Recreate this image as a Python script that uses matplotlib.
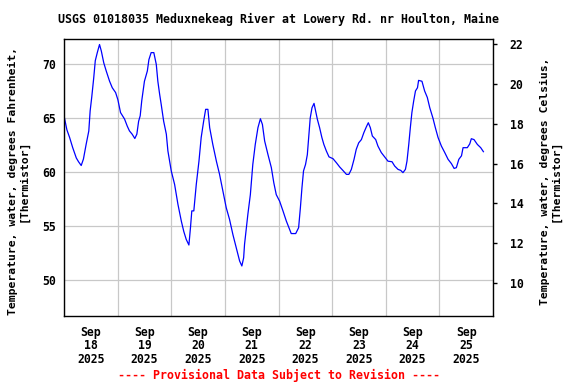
import numpy as np
import pandas as pd
import matplotlib
matplotlib.use("Agg")
import matplotlib.pyplot as plt
import matplotlib.dates as mdates

# hours since 2025-09-18 00:00 and water temperature (deg F)
hours = [0.2, 1.3, 2.5, 3.9, 5.5, 6.5, 7.7, 8.7, 9.9, 11.1, 11.7, 12.4, 13.3, 14.0,
         14.9, 15.9, 16.7, 17.8, 18.9, 20.4, 21.6, 23.1, 24.1, 25.3, 27.1, 28.3,
         29.3, 30.5, 31.7, 32.6, 33.4, 34.1, 34.8, 36.0, 37.3, 38.0, 39.0, 40.2,
         41.3, 42.0, 42.8, 43.5, 44.6, 45.8, 46.5, 48.0, 49.5, 51.0, 52.5, 53.6,
         54.7, 55.9, 56.6, 57.2, 58.1, 59.2, 60.4, 61.4, 62.5, 63.4, 64.4, 65.2,
         66.6, 68.2, 69.6, 71.1, 72.6, 74.1, 75.6, 77.1, 78.6, 79.6, 80.4, 80.8,
         81.6, 82.3, 83.4, 84.5, 85.6, 86.8, 87.9, 88.8, 89.8, 91.3, 92.8, 93.9,
         95.0, 96.5, 98.0, 99.5, 100.7, 101.7, 103.7, 105.0, 105.8, 106.5, 107.2,
         108.1, 108.9, 109.5, 110.2, 111.0, 111.9, 112.6, 113.4, 114.4, 115.4,
         116.3, 117.4, 118.6, 120.4, 121.9, 123.4, 124.8, 126.4, 127.5, 128.6,
         129.8, 130.8, 131.9, 133.1, 134.2, 135.3, 136.2, 137.1, 138.0, 139.5,
         140.5, 142.0, 143.5, 145.0, 146.8, 148.0, 149.5, 150.7, 151.7, 152.8,
         153.5, 154.3, 155.0, 155.7, 156.5, 157.3, 158.2, 158.7, 160.2, 161.4,
         162.6, 163.7, 165.1, 166.2, 167.4, 168.9, 170.4, 171.9, 173.4, 174.6,
         175.6, 176.7, 177.9, 178.6, 180.5, 181.6, 182.3, 183.5, 185.0, 186.5,
         187.7]
temp_f = [65.0, 63.9, 63.2, 62.25, 61.3, 60.95, 60.6, 61.2, 62.55, 63.8, 65.65,
          66.9, 68.7, 70.3, 71.05, 71.8, 71.2, 70.1, 69.35, 68.4, 67.8, 67.35,
          66.7, 65.5, 64.9, 64.25, 63.8, 63.5, 63.1, 63.5, 64.7, 65.2, 66.6, 68.4,
          69.35, 70.4, 71.05, 71.05, 69.96, 68.4, 67.2, 66.26, 64.7, 63.5, 61.95,
          60.1, 58.85, 57.0, 55.46, 54.5, 53.76, 53.24, 54.84, 56.4, 56.4, 58.85,
          61.0, 63.2, 64.7, 65.8, 65.8, 64.1, 62.55, 61.0, 59.8, 58.24, 56.7,
          55.6, 54.2, 53.0, 51.76, 51.3, 52.06, 53.3, 54.84, 56.1, 57.9, 60.7,
          62.55, 64.1, 64.93, 64.4, 62.87, 61.6, 60.4, 59.0, 57.9, 57.3, 56.4,
          55.46, 54.84, 54.3, 54.3, 54.84, 56.7, 58.55, 60.1, 60.7, 61.6, 63.2,
          65.0, 65.95, 66.35, 65.65, 64.87, 64.1, 63.2, 62.55, 61.95, 61.4, 61.23,
          60.86, 60.46, 60.15, 59.78, 59.78, 60.24, 61.17, 62.1, 62.7, 63.0, 63.64,
          64.17, 64.56, 64.1, 63.33, 63.0, 62.4, 61.8, 61.4, 61.0, 60.95, 60.55,
          60.24, 60.15, 59.94, 60.24, 61.0, 62.55, 64.1, 65.5, 66.57, 67.5, 67.8,
          68.48, 68.4, 67.5, 66.9, 65.95, 65.0, 64.1, 63.2, 62.4, 61.8, 61.17,
          60.77, 60.33, 60.4, 61.17, 61.5, 62.25, 62.25, 62.6, 63.08, 63.0, 62.55,
          62.25, 61.88]

f_ticks = [50, 55, 60, 65, 70]
c_ticks = [10, 12, 14, 16, 18, 20, 22]

start = pd.Timestamp("2025-09-18")
times = start + pd.to_timedelta(hours, unit="h")

mono = "DejaVu Sans Mono"
plt.rcParams["font.family"] = mono
plt.rcParams["font.weight"] = "bold"

fig = plt.figure(figsize=(5.76, 3.84), dpi=100)
ax = fig.add_axes([64 / 576, 1 - 316 / 384, (493 - 64) / 576, (316 - 39) / 384])

ax.plot(times, temp_f, color="#0000ff", lw=0.9)

ax.set_xlim(start, start + pd.Timedelta(days=8))
ax.set_ylim(46.67, 72.31)
ax.set_yticks(f_ticks)
ax.grid(True, color="#c8c8c8", lw=0.9)
ax.set_axisbelow(True)

ax.xaxis.set_major_locator(mdates.DayLocator())
ax.xaxis.set_major_formatter(plt.NullFormatter())
ax.xaxis.set_minor_locator(mdates.HourLocator(byhour=[12]))
ax.xaxis.set_minor_formatter(mdates.DateFormatter("%b\n%d\n%Y"))
ax.tick_params(axis="x", which="both", length=0, pad=7, labelsize=8.3)
ax.tick_params(axis="y", length=0, pad=6, labelsize=8.3)
for lab in ax.get_xticklabels(minor=True):
    lab.set_linespacing(1.05)

for s in ax.spines.values():
    s.set_color("black")
    s.set_linewidth(1.0)

ax2 = ax.twinx()
ax2.set_ylim(8.36, 22.24)
ax2.set_yticks(c_ticks)
ax2.tick_params(axis="y", length=3, width=1, direction="out", pad=9, labelsize=8.3)
for s in ax2.spines.values():
    s.set_visible(False)

fig.text(278.5 / 576, 1 - 19 / 384,
         "USGS 01018035 Meduxnekeag River at Lowery Rd. nr Houlton, Maine",
         ha="center", va="center", fontsize=8.4, fontweight="bold")
fig.text(18 / 576, 1 - 181 / 384,
         "Temperature, water, degrees Fahrenheit,\n[Thermistor]",
         ha="center", va="center", rotation=90, multialignment="center",
         fontsize=8.2, fontweight="bold", linespacing=1.05)
fig.text(550 / 576, 1 - 181 / 384,
         "Temperature, water, degrees Celsius,\n[Thermistor]",
         ha="center", va="center", rotation=90, multialignment="center",
         fontsize=8.2, fontweight="bold", linespacing=1.05)
fig.text(278.5 / 576, 1 - 375 / 384,
         "---- Provisional Data Subject to Revision ----",
         ha="center", va="center", color="#ff0000", fontsize=8.4,
         fontweight="bold")

fig.savefig("out.png", dpi=100)
